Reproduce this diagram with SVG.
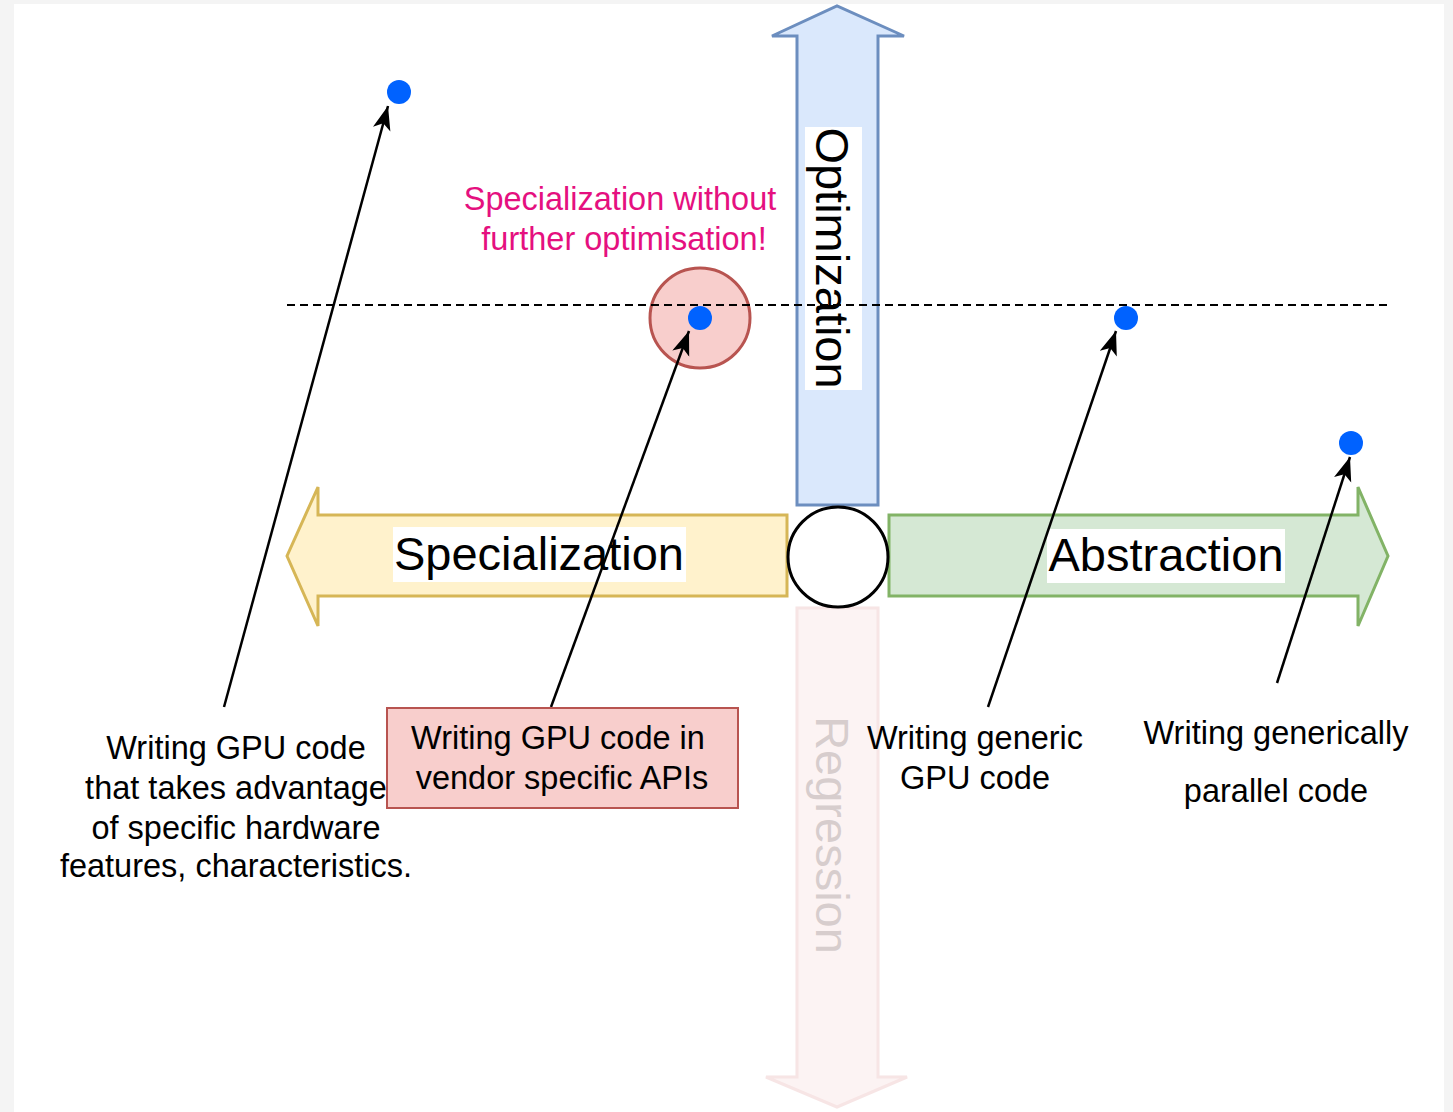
<svg xmlns="http://www.w3.org/2000/svg" width="1453" height="1112" viewBox="0 0 1453 1112">
  <style>
    text { font-family: "Liberation Sans", Arial, sans-serif; fill: #000; }
    .lbl { font-size: 32.5px; text-anchor: middle; }
    .axis { font-size: 47px; text-anchor: middle; }
    .dot { fill: #0062ff; }
    .conn { stroke: #000; stroke-width: 2.5; fill: none; marker-end: url(#arrow); }
    .arrow { stroke-width: 3; stroke-linejoin: miter; }
  </style>
  <defs>
    <marker id="arrow" markerUnits="userSpaceOnUse" markerWidth="28" markerHeight="20" refX="24" refY="9" orient="auto">
      <path d="M0,0 L24,9 L0,18 L6,9 z" fill="#000"/>
    </marker>
  </defs>

  <!-- page -->
  <rect x="0" y="0" width="1453" height="1112" fill="#f4f4f4"/>
  <rect x="14" y="4" width="1430" height="1108" fill="#ffffff"/>

  <!-- regression axis (faded) -->
  <g id="regression" opacity="0.5">
    <polygon class="arrow" points="797,608 797,1077 766,1077 837,1107 907,1077 878,1077 878,608" fill="#fbe9e9" stroke="#f0cccc"/>
    <text class="axis" transform="translate(833,835) rotate(90)" x="0" y="17" style="fill:#b09d9d">Regression</text>
  </g>

  <!-- optimization axis -->
  <g id="optimization">
    <polygon class="arrow" points="797,505 797,36 772,36 837,6 904,36 878,36 878,505" fill="#dae8fc" stroke="#6c8ebf"/>
    <rect x="805" y="127" width="57" height="263" fill="#ffffff"/>
    <text class="axis" transform="translate(833,258) rotate(90)" x="0" y="17">Optimization</text>
  </g>

  <!-- specialization axis -->
  <g id="specialization">
    <polygon class="arrow" points="787,515 318,515 318,487 287,556 318,626 318,596 787,596" fill="#fff2cc" stroke="#d6b656"/>
    <rect x="393" y="527" width="293" height="55" fill="#ffffff"/>
    <text class="axis" x="539" y="570">Specialization</text>
  </g>

  <!-- abstraction axis -->
  <g id="abstraction">
    <polygon class="arrow" points="889,515 1358,515 1358,487 1388,556 1358,626 1358,596 889,596" fill="#d5e8d4" stroke="#82b366"/>
    <rect x="1047" y="529" width="238" height="54" fill="#ffffff"/>
    <text class="axis" x="1166" y="571">Abstraction</text>
  </g>

  <!-- origin -->
  <g id="origin">
    <circle cx="838" cy="557" r="50" fill="#ffffff" stroke="#000" stroke-width="3"/>
  </g>

  <!-- highlight ring -->
  <g id="highlight">
    <circle cx="700" cy="318" r="50" fill="#f8cecc" stroke="#b85450" stroke-width="3"/>
  </g>

  <!-- reference level, drawn over the axes -->
  <g id="level">
    <line x1="287" y1="305" x2="1390" y2="305" stroke="#000" stroke-width="2.2" stroke-dasharray="8 5"/>
  </g>

  <g id="note">
    <text class="lbl" x="620" y="210" style="fill:#e5107f">Specialization without</text>
    <text class="lbl" x="624" y="250" style="fill:#e5107f">further optimisation!</text>
  </g>

  <!-- points -->
  <g id="p-hardware"><circle class="dot" cx="399" cy="92" r="12"/></g>
  <g id="p-vendor"><circle class="dot" cx="700" cy="318" r="12"/></g>
  <g id="p-generic-gpu"><circle class="dot" cx="1126" cy="318" r="12"/></g>
  <g id="p-parallel"><circle class="dot" cx="1351" cy="443" r="12"/></g>

  <!-- connectors -->
  <g id="connectors">
    <line class="conn" x1="224" y1="707" x2="388" y2="106"/>
    <line class="conn" x1="551" y1="707" x2="689" y2="331"/>
    <line class="conn" x1="988" y1="707" x2="1116" y2="331"/>
    <line class="conn" x1="1277" y1="683" x2="1350" y2="457"/>
  </g>

  <!-- descriptions -->
  <g id="d-hardware">
    <text class="lbl" x="236" y="759">Writing GPU code</text>
    <text class="lbl" x="236" y="799">that takes advantage</text>
    <text class="lbl" x="236" y="839">of specific hardware</text>
    <text class="lbl" x="236" y="877">features, characteristics.</text>
  </g>
  <g id="d-vendor">
    <rect x="387" y="708" width="351" height="100" fill="#f8cecc" stroke="#b85450" stroke-width="2"/>
    <text class="lbl" x="558" y="749">Writing GPU code in</text>
    <text class="lbl" x="562" y="789">vendor specific APIs</text>
  </g>
  <g id="d-generic-gpu">
    <text class="lbl" x="975" y="749">Writing generic</text>
    <text class="lbl" x="975" y="789">GPU code</text>
  </g>
  <g id="d-parallel">
    <text class="lbl" x="1276" y="744">Writing generically</text>
    <text class="lbl" x="1276" y="802">parallel code</text>
  </g>
</svg>
